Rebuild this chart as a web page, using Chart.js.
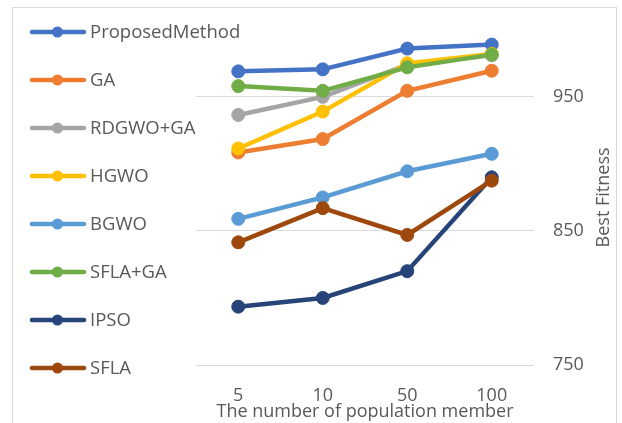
<!DOCTYPE html>
<html>
<head>
<meta charset="utf-8">
<script src="https://cdn.jsdelivr.net/npm/chart.js@4.4.1/dist/chart.umd.min.js"></script>
<style>
  html, body { margin: 0; padding: 0; background: #fff; overflow: hidden; }
  #wrap { position: relative; width: 622px; height: 423px; }
  #frame { position: absolute; left: 12px; top: 7px; width: 605px; height: 440px; border: 1px solid #d9d9d9; box-sizing: border-box; }
  canvas { position: absolute; left: 0; top: 0; }
</style>
</head>
<body>
<div id="wrap">
  <div id="frame"></div>
  <canvas id="fitnessChart" width="622" height="423"></canvas>
</div>
<script>
// population sizes on the x axis
var populations = ['5', '10', '50', '100'];
var yTicks = [750, 850, 950];

var seriesNames = ['ProposedMethod', 'GA', 'RDGWO+GA', 'HGWO', 'BGWO', 'SFLA+GA', 'IPSO', 'SFLA'];
var seriesColors = ['#4472C4', '#ED7D31', '#A5A5A5', '#FFC000', '#5B9BD5', '#70AD47', '#264478', '#9E480E'];

var proposedMethod = [969, 970.5, 986, 989];
var ga = [908.5, 918.5, 954.5, 969.5];
var rdgwoGa = [936.5, 950, 974, 981];
var hgwo = [911.5, 939, 975, 982];
var bgwo = [859, 875, 894.5, 907.5];
var sflaGa = [958, 954.5, 972, 981.5];
var ipso = [793.5, 800, 820, 890];
var sfla = [841.5, 867, 847, 887.5];

var seriesValues = [proposedMethod, ga, rdgwoGa, hgwo, bgwo, sflaGa, ipso, sfla];

Chart.defaults.font.family = "'Open Sans'";
Chart.defaults.font.size = 18;
Chart.defaults.color = '#595959';

var datasets = seriesNames.map(function (name, i) {
  return {
    label: name,
    data: seriesValues[i],
    borderColor: seriesColors[i],
    backgroundColor: seriesColors[i],
    pointBackgroundColor: seriesColors[i],
    pointBorderColor: seriesColors[i],
    borderWidth: 4.5,
    pointRadius: 6.5,
    pointBorderWidth: 1,
    fill: false,
    // later series drawn on top, like the original
    order: seriesNames.length - i
  };
});

// left legend with line+marker symbols, and the bottom-to-top axis title
var sidePlugin = {
  id: 'sidePlugin',
  afterDraw: function (chart) {
    var ctx = chart.ctx;
    ctx.save();
    chart.data.datasets.forEach(function (ds, i) {
      var y = 32 + i * 48;
      ctx.strokeStyle = ds.borderColor;
      ctx.lineWidth = 4.5;
      ctx.lineCap = 'round';
      ctx.beginPath();
      ctx.moveTo(32, y);
      ctx.lineTo(84, y);
      ctx.stroke();
      ctx.fillStyle = ds.borderColor;
      ctx.beginPath();
      ctx.arc(57.5, y, 5.5, 0, Math.PI * 2);
      ctx.fill();
      ctx.fillStyle = '#595959';
      ctx.font = "18.5px 'Open Sans'";
      ctx.textAlign = 'left';
      ctx.textBaseline = 'middle';
      ctx.fillText(ds.label, 90, y + 1);
    });
    var area = chart.chartArea;
    ctx.translate(604, (area.top + area.bottom) / 2);
    ctx.rotate(-Math.PI / 2);
    ctx.font = "18px 'Open Sans'";
    ctx.textAlign = 'center';
    ctx.textBaseline = 'middle';
    ctx.fillText('Best Fitness', 0, 0);
    ctx.restore();
  }
};

new Chart(document.getElementById('fitnessChart'), {
  type: 'line',
  data: {
    labels: populations,
    datasets: datasets
  },
  options: {
    responsive: false,
    animation: false,
    layout: {
      padding: { left: 196, top: 29, right: 0, bottom: 0 }
    },
    plugins: {
      legend: { display: false },
      tooltip: { enabled: false }
    },
    scales: {
      x: {
        offset: true,
        grid: { display: false },
        border: { display: false },
        ticks: { padding: 12, maxRotation: 0 },
        title: {
          display: true,
          text: 'The number of population member',
          padding: { top: 0, bottom: 0 }
        },
        afterFit: function (scale) { scale.height = 58; }
      },
      y: {
        position: 'right',
        min: 750,
        max: 1000,
        afterBuildTicks: function (scale) {
          scale.ticks = yTicks.map(function (v) { return { value: v }; });
        },
        grid: { color: '#d9d9d9', lineWidth: 1, drawTicks: false },
        border: { display: false },
        ticks: { padding: 19 },
        afterFit: function (scale) { scale.width = 88; }
      }
    }
  },
  plugins: [sidePlugin]
});
</script>
</body>
</html>
